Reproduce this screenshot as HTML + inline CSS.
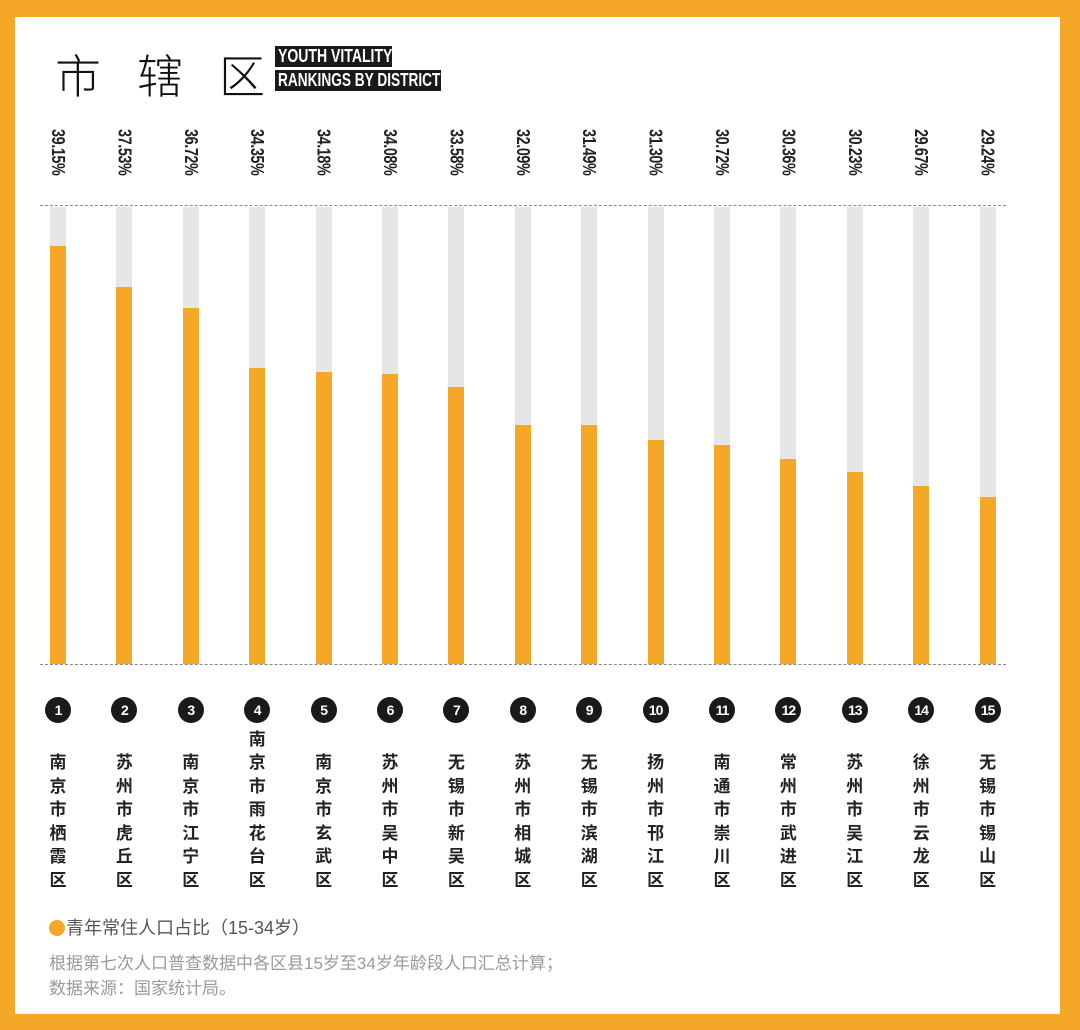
<!DOCTYPE html>
<html><head><meta charset="utf-8"><style>
*{margin:0;padding:0;box-sizing:border-box}
body{width:1080px;height:1030px;background:#f5a828;position:relative;overflow:hidden;font-family:"Liberation Sans","Noto Sans CJK SC",sans-serif}
#w{position:absolute;left:15px;top:17px;width:1045px;height:997px;background:#fff}
.a{position:absolute}
.dash{position:absolute;left:40px;width:966px;border-top:1.5px dashed #888}
.g{position:absolute;width:16px;top:207px;height:457px;background:#e6e6e6}
.o{position:absolute;width:16px;bottom:0;background:#f5a828}
.p{position:absolute;top:129px;writing-mode:vertical-rl;font-weight:bold;font-size:18px;color:#222;transform:scaleY(0.8);transform-origin:top;width:20px;line-height:20px;letter-spacing:-0.5px}
.c{position:absolute;top:697px;width:26px;height:26px;border-radius:50%;background:#1a1a1a;color:#fff;font-weight:bold;font-size:14px;text-align:center;line-height:26px;letter-spacing:-1px}
.n{position:absolute;bottom:138px;width:24px;text-align:center;font-size:17px;font-weight:bold;line-height:23.5px;color:#222}
.bd{position:absolute;background:#1a1a1a;color:#fff;font-weight:bold;font-size:18px;line-height:21px;padding:0 3px;white-space:nowrap}
</style></head><body>
<div id="w"></div>
<div class="a" style="left:55px;top:44px;font-size:46px;font-weight:300;color:#111;letter-spacing:36px;white-space:nowrap;font-family:'Noto Sans CJK SC',sans-serif;line-height:60px">市辖区</div>
<div class="bd" style="left:275px;top:46px;width:117px"><span style="display:inline-block;transform:scaleX(0.78);transform-origin:left">YOUTH VITALITY</span></div>
<div class="bd" style="left:275px;top:70px;width:166px"><span style="display:inline-block;transform:scaleX(0.76);transform-origin:left">RANKINGS BY DISTRICT</span></div>
<div class="dash" style="top:205px"></div>
<div class="dash" style="top:664px"></div>
<div id="bars"></div>
<div class="a" style="left:49px;top:920px;width:16px;height:16px;border-radius:50%;background:#f5a828"></div>
<div class="a" style="left:66px;top:915px;font-size:18px;color:#555;line-height:26px;white-space:nowrap">青年常住人口占比（15-34岁）</div>
<div class="a" style="left:49px;top:951px;font-size:17px;color:#9a9a9a;line-height:25px;white-space:nowrap">根据第七次人口普查数据中各区县15岁至34岁年龄段人口汇总计算；<br>数据来源：国家统计局。</div>
<script>
var v=["39.15%","37.53%","36.72%","34.35%","34.18%","34.08%","33.58%","32.09%","31.49%","31.30%","30.72%","30.36%","30.23%","29.67%","29.24%"];
var t=[246,287,308,368,372,374,387,425,425,440,445,459,472,486,497];
var n=["南京市栖霞区","苏州市虎丘区","南京市江宁区","南京市雨花台区","南京市玄武区","苏州市吴中区","无锡市新吴区","苏州市相城区","无锡市滨湖区","扬州市邗江区","南通市崇川区","常州市武进区","苏州市吴江区","徐州市云龙区","无锡市锡山区"];
var h="";
for(var i=0;i<15;i++){var cx=58+i*66.4;
h+='<div class="g" style="left:'+(cx-8)+'px"><div class="o" style="height:'+(664-t[i])+'px"></div></div>';
h+='<div class="p" style="left:'+(cx-10)+'px">'+v[i]+'</div>';
h+='<div class="c" style="left:'+(cx-13)+'px">'+(i+1)+'</div>';
h+='<div class="n" style="left:'+(cx-12)+'px">'+n[i].split("").join("<br>")+'</div>';}
document.getElementById("bars").innerHTML=h;
</script>
</body></html>
